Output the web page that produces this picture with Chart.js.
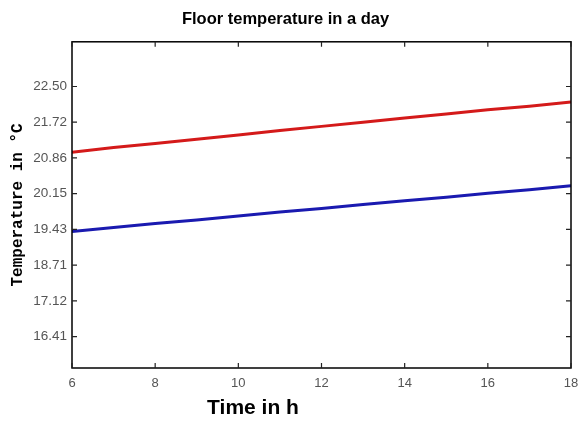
<!DOCTYPE html>
<html>
<head>
<meta charset="utf-8">
<script src="https://cdn.jsdelivr.net/npm/chart.js@4/dist/chart.umd.min.js"></script>
<style>
html,body{margin:0;padding:0;background:#fff;}
#wrap{width:578px;height:421px;position:relative;}
</style>
</head>
<body>
<div id="wrap"><canvas id="c" width="578" height="421"></canvas></div>
<script>
// Data
const hours = [6, 7, 8, 9, 10, 11, 12, 13, 14, 15, 16, 17, 18];
const upperTemps = [21.00, 21.11, 21.21, 21.31, 21.41, 21.52, 21.62, 21.72, 21.81, 21.90, 21.99, 22.07, 22.16];
const lowerTemps = [19.39, 19.47, 19.55, 19.62, 19.70, 19.78, 19.85, 19.93, 20.01, 20.08, 20.16, 20.23, 20.31];
// Tick labels on the y axis (evenly spaced in the figure, bottom to top)
const yTickLabels = ['16.41', '17.12', '18.71', '19.43', '20.15', '20.86', '21.72', '22.50'];
const xTicks = [6, 8, 10, 12, 14, 16, 18];
const titleText = 'Floor temperature in a day';
const xTitle = 'Time in h';
const yTitle = 'Temperature in \u00B0C';

// The figure's y axis places its labels at equal steps; map a temperature onto that step axis
const yTickValues = yTickLabels.map(Number);
function toStep(t) {
  for (let i = 0; i < yTickValues.length - 1; i++) {
    const a = yTickValues[i], b = yTickValues[i + 1];
    if (t <= b || i === yTickValues.length - 2) return i + (t - a) / (b - a);
  }
  return 0;
}
const upperPts = hours.map((h, i) => ({x: h, y: toStep(upperTemps[i])}));
const lowerPts = hours.map((h, i) => ({x: h, y: toStep(lowerTemps[i])}));

const boxPlugin = {
  id: 'box',
  afterDraw(chart) {
    const ctx = chart.ctx, a = chart.chartArea;
    const xs = chart.scales.x, ys = chart.scales.y;
    ctx.save();
    ctx.strokeStyle = '#000';
    ctx.lineWidth = 1.5;
    ctx.strokeRect(a.left, a.top, a.right - a.left, a.bottom - a.top);
    ctx.lineWidth = 1.2;
    ctx.strokeStyle = '#222';
    const tl = 5;
    ctx.beginPath();
    xTicks.forEach(v => {
      const px = xs.getPixelForValue(v);
      ctx.moveTo(px, a.bottom); ctx.lineTo(px, a.bottom - tl);
      ctx.moveTo(px, a.top); ctx.lineTo(px, a.top + tl);
    });
    yTickLabels.forEach((l, i) => {
      const py = ys.getPixelForValue(i);
      ctx.moveTo(a.left, py); ctx.lineTo(a.left + tl, py);
      ctx.moveTo(a.right, py); ctx.lineTo(a.right - tl, py);
    });
    ctx.stroke();
    // x axis title
    ctx.fillStyle = '#000';
    ctx.font = 'bold 21px "Liberation Sans", Arial, sans-serif';
    ctx.textAlign = 'center';
    ctx.textBaseline = 'middle';
    ctx.fillText(xTitle, 253, 408);
    ctx.restore();
  }
};

new Chart(document.getElementById('c'), {
  type: 'line',
  data: {
    datasets: [
      {data: upperPts, borderColor: '#d41a1a', borderWidth: 3, pointRadius: 0, tension: 0, fill: false},
      {data: lowerPts, borderColor: '#1a1ab0', borderWidth: 3, pointRadius: 0, tension: 0, fill: false}
    ]
  },
  options: {
    responsive: false,
    animation: false,
    layout: {padding: {left: 0, right: 7, top: 0, bottom: 0}},
    plugins: {
      legend: {display: false},
      tooltip: {enabled: false},
      title: {
        display: true,
        text: titleText,
        color: '#000',
        font: {family: '"Liberation Sans", Arial, sans-serif', size: 16.5, weight: 'bold'},
        padding: {top: 10, bottom: 12}
      }
    },
    scales: {
      x: {
        type: 'linear',
        min: 6, max: 18,
        afterBuildTicks: s => { s.ticks = xTicks.map(v => ({value: v})); },
        afterFit: s => { s.height = 53; s.paddingLeft = 0; s.paddingRight = 0; },
        grid: {display: false, drawTicks: false},
        border: {display: false},
        ticks: {color: '#555', padding: 8, font: {family: '"Liberation Sans", Arial, sans-serif', size: 13}, maxRotation: 0}
      },
      y: {
        type: 'linear',
        min: -0.877, max: 8.25,
        afterBuildTicks: s => { s.ticks = yTickLabels.map((l, i) => ({value: i})); },
        afterFit: s => { s.width = 72; },
        grid: {display: false, drawTicks: false},
        border: {display: false},
        ticks: {
          color: '#555', padding: 5,
          font: {family: '"Liberation Sans", Arial, sans-serif', size: 13.5},
          callback: v => yTickLabels[v]
        },
        title: {
          display: true,
          text: yTitle,
          color: '#000',
          padding: {top: 8, bottom: 4},
          font: {family: '"Liberation Mono", "DejaVu Sans Mono", monospace', size: 16, weight: 'bold'}
        }
      }
    }
  },
  plugins: [boxPlugin]
});
</script>
</body>
</html>
